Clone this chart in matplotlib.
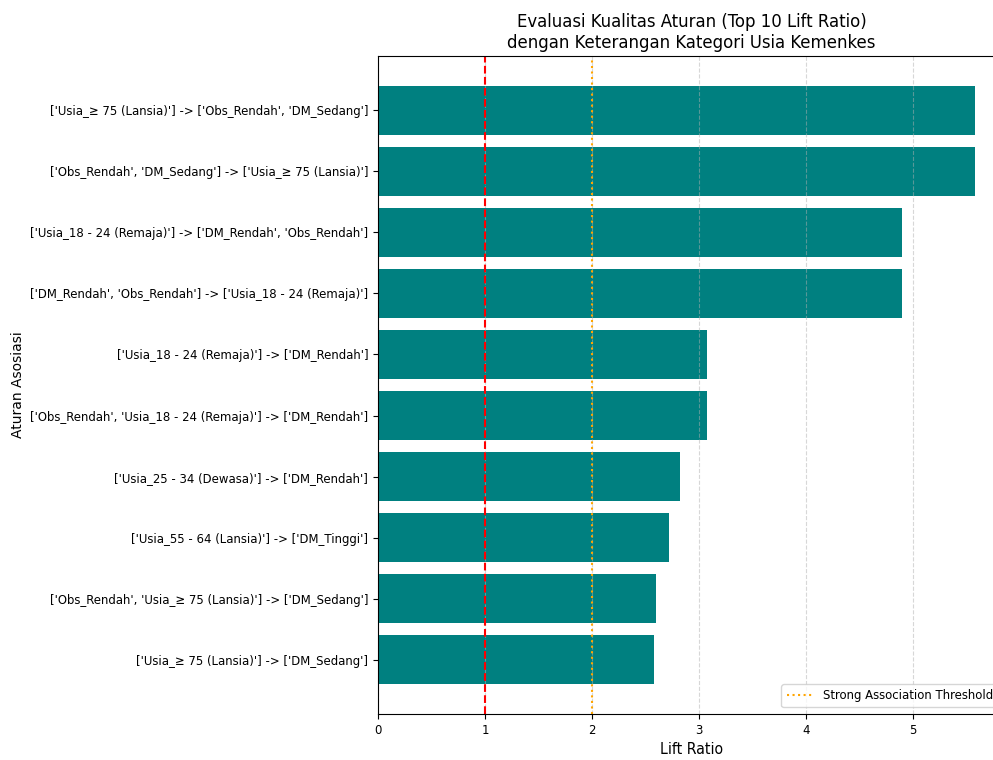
import matplotlib
matplotlib.use('Agg')
import matplotlib.pyplot as plt

plt.rcParams['font.stretch'] = 'condensed'

rules = [
    "['Usia_≥ 75 (Lansia)'] -> ['Obs_Rendah', 'DM_Sedang']",
    "['Obs_Rendah', 'DM_Sedang'] -> ['Usia_≥ 75 (Lansia)']",
    "['Usia_18 - 24 (Remaja)'] -> ['DM_Rendah', 'Obs_Rendah']",
    "['DM_Rendah', 'Obs_Rendah'] -> ['Usia_18 - 24 (Remaja)']",
    "['Usia_18 - 24 (Remaja)'] -> ['DM_Rendah']",
    "['Obs_Rendah', 'Usia_18 - 24 (Remaja)'] -> ['DM_Rendah']",
    "['Usia_25 - 34 (Dewasa)'] -> ['DM_Rendah']",
    "['Usia_55 - 64 (Lansia)'] -> ['DM_Tinggi']",
    "['Obs_Rendah', 'Usia_≥ 75 (Lansia)'] -> ['DM_Sedang']",
    "['Usia_≥ 75 (Lansia)'] -> ['DM_Sedang']",
]
lift = [5.58, 5.58, 4.90, 4.90, 3.07, 3.07, 2.82, 2.72, 2.60, 2.58]

fig = plt.figure(figsize=(9.93, 7.6), dpi=100)
ax = fig.add_axes([378 / 993, 46 / 760, 627 / 993, 658 / 760])

ax.barh(rules, lift, color='teal')
ax.invert_yaxis()

ax.axvline(x=1, color='red', linestyle='--')
ax.axvline(x=2, color='orange', linestyle=':', label='Strong Association Threshold')

ax.set_title('Evaluasi Kualitas Aturan (Top 10 Lift Ratio)\ndengan Keterangan Kategori Usia Kemenkes', fontsize=13.2)
ax.set_xlabel('Lift Ratio', fontsize=11.3)
ax.set_ylabel('Aturan Asosiasi', fontsize=10, fontstretch='normal')
ax.tick_params(labelsize=9.4)
ax.grid(axis='x', linestyle='--', alpha=0.5)
ax.legend(loc='lower right', fontsize=9.4)

fig.savefig('out.png', dpi=100)
